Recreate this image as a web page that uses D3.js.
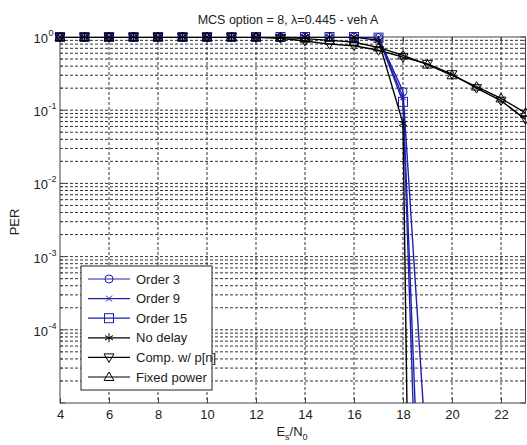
<!DOCTYPE html>
<html lang="en">
<head>
<meta charset="UTF-8">
<title>PER vs Es/N0</title>
<script src="https://d3js.org/d3.v7.min.js"></script>
<style>
    body { margin: 0; background: #fff; }
    svg { font-family: "Liberation Sans", Arial, sans-serif; }
    .grid line { stroke: #333; stroke-dasharray: 3,2; stroke-width: 1; }
    .curve { fill: none; stroke-width: 1.4px; }
</style>
</head>
<body>
<svg width="527" height="445"></svg>
<script>
// x values (Es/N0, dB)
const snrLong  = [4, 5, 6, 7, 8, 9, 10, 11, 12, 13, 14, 15, 16, 17, 18, 19, 20, 21, 22, 23];
const snrShort = [4, 5, 6, 7, 8, 9, 10, 11, 12, 13, 14, 15, 16, 17, 18, 19];

// PER per series
const order3   = [1, 1, 1, 1, 1, 1, 1, 1, 1, 1, 1, 1, 1, 0.98, 0.18, 1.15e-6];
const order9   = [1, 1, 1, 1, 1, 1, 1, 1, 1, 1, 1, 1, 1, 0.98, 0.15, 5e-10];
const order15  = [1, 1, 1, 1, 1, 1, 1, 1, 1, 1, 1, 1, 1, 0.98, 0.13, 1.2e-11];
const noDelay  = [1, 1, 1, 1, 1, 1, 1, 1, 1, 1, 1, 1, 1, 0.9, 0.066, 1e-25];
const compPn   = [1, 1, 1, 1, 1, 1, 1, 1, 0.99, 0.96, 0.88, 0.8, 0.76, 0.66, 0.53, 0.43, 0.31, 0.2, 0.135, 0.075];
const fixedPow = [1, 1, 1, 1, 1, 1, 1, 1, 1, 0.99, 0.95, 0.9, 0.85, 0.72, 0.56, 0.42, 0.3, 0.21, 0.145, 0.092];

const xTicks = [4, 6, 8, 10, 12, 14, 16, 18, 20, 22];
const yTicks = [1, 1e-1, 1e-2, 1e-3, 1e-4];
const yExps  = ["0", "-1", "-2", "-3", "-4"];

const blue = "#2020b0";
const series = [
    { name: "Order 3",       x: snrShort, y: order3,   color: blue,   marker: "circle" },
    { name: "Order 9",       x: snrShort, y: order9,   color: blue,   marker: "x" },
    { name: "Order 15",      x: snrShort, y: order15,  color: blue,   marker: "square" },
    { name: "No delay",      x: snrShort, y: noDelay,  color: "#000", marker: "star" },
    { name: "Comp. w/ p[n]", x: snrLong,  y: compPn,   color: "#000", marker: "tridown" },
    { name: "Fixed power",   x: snrLong,  y: fixedPow, color: "#000", marker: "triup" }
];

const pLeft = 60, pRight = 525.5, pTop = 37, pBottom = 403;
const svg = d3.select("svg");

const x = d3.scaleLinear().domain([4, 23]).range([pLeft, pRight]);
const y = d3.scaleLog().domain([1e-5, 1]).range([pBottom, pTop]);

svg.append("defs").append("clipPath").attr("id", "plot")
    .append("rect").attr("x", pLeft).attr("y", pTop)
    .attr("width", pRight - pLeft).attr("height", pBottom - pTop);

// grid
const minor = [];
for (let e = -5; e < 0; e++) {
    for (let m = 2; m <= 9; m++) minor.push(m * Math.pow(10, e));
}
const grid = svg.append("g").attr("class", "grid");
grid.selectAll(".gx").data(xTicks.slice(1)).join("line")
    .attr("x1", d => x(d)).attr("x2", d => x(d)).attr("y1", pTop).attr("y2", pBottom);
grid.append("g").selectAll("line").data(yTicks.slice(1).concat(minor)).join("line")
    .attr("x1", pLeft).attr("x2", pRight).attr("y1", d => y(d)).attr("y2", d => y(d));

// axes box and ticks
svg.append("rect").attr("x", pLeft).attr("y", pTop)
    .attr("width", pRight - pLeft).attr("height", pBottom - pTop)
    .attr("fill", "none").attr("stroke", "#444");

const xAxis = svg.append("g").attr("transform", `translate(0,${pBottom})`)
    .call(d3.axisBottom(x).tickValues(xTicks).tickSize(-5).tickPadding(7).tickFormat(d3.format("d")));
xAxis.select(".domain").remove();
xAxis.selectAll("text").attr("font-size", 13).attr("fill", "#222");
xAxis.selectAll("line").attr("stroke", "#444");

svg.append("g").attr("transform", `translate(0,${pTop})`)
    .call(d3.axisTop(x).tickValues(xTicks).tickSize(-5).tickFormat(""))
    .call(g => g.select(".domain").remove())
    .selectAll("line").attr("stroke", "#444");

const yMajor = [1, 1e-1, 1e-2, 1e-3, 1e-4, 1e-5];
[pLeft, pRight].forEach((px, i) => {
    const dir = i === 0 ? 1 : -1;
    svg.append("g").selectAll("line").data(yMajor).join("line")
        .attr("x1", px).attr("x2", px + dir * 5)
        .attr("y1", d => y(d)).attr("y2", d => y(d)).attr("stroke", "#444");
    svg.append("g").selectAll("line").data(minor).join("line")
        .attr("x1", px).attr("x2", px + dir * 3)
        .attr("y1", d => y(d)).attr("y2", d => y(d)).attr("stroke", "#444");
});

const yLab = svg.append("g").selectAll("text").data(yTicks).join("text")
    .attr("x", 48).attr("y", d => y(d) + 6)
    .attr("text-anchor", "end").attr("font-size", 13).attr("fill", "#222");
yLab.append("tspan").text("10");
yLab.append("tspan").attr("x", 48.5).attr("text-anchor", "start").attr("dy", -7).attr("font-size", 9)
    .text((d, i) => yExps[i]);

// labels
svg.append("text").attr("x", 288).attr("y", 24).attr("text-anchor", "middle")
    .attr("font-size", 12.5).attr("fill", "#222").text("MCS option = 8,  \u03bb=0.445 - veh A");

svg.append("text").attr("transform", "translate(19,222) rotate(-90)")
    .attr("text-anchor", "middle").attr("font-size", 13).attr("fill", "#222").text("PER");

const xl = svg.append("text").attr("x", 292).attr("y", 436).attr("text-anchor", "middle")
    .attr("font-size", 13).attr("fill", "#222");
xl.append("tspan").text("E");
xl.append("tspan").attr("dy", 4).attr("font-size", 9).text("s");
xl.append("tspan").attr("dy", -4).text("/N");
xl.append("tspan").attr("dy", 4).attr("font-size", 9).text("0");

// markers
function drawMarker(g, type, color) {
    if (type === "circle") {
        g.append("circle").attr("r", 4).attr("fill", "none").attr("stroke", color);
    } else if (type === "square") {
        g.append("rect").attr("x", -4.5).attr("y", -4.5).attr("width", 9).attr("height", 9)
            .attr("fill", "none").attr("stroke", color);
    } else if (type === "x") {
        g.append("path").attr("d", "M-3,-3L3,3M-3,3L3,-3").attr("stroke", color).attr("fill", "none");
    } else if (type === "star") {
        g.append("path").attr("d", "M0,-4.5V4.5M-4,-2.2L4,2.2M-4,2.2L4,-2.2")
            .attr("stroke", color).attr("fill", "none");
    } else if (type === "tridown") {
        g.append("path").attr("d", "M-5,-3.5L5,-3.5L0,5Z").attr("stroke", color).attr("fill", "none");
    } else if (type === "triup") {
        g.append("path").attr("d", "M-5,3.5L5,3.5L0,-5Z").attr("stroke", color).attr("fill", "none");
    }
}

const line = d3.line().x(d => x(d[0])).y(d => y(d[1]));

series.forEach(s => {
    const pts = s.x.map((v, i) => [v, s.y[i]]);
    svg.append("path").datum(pts).attr("class", "curve")
        .attr("clip-path", "url(#plot)")
        .attr("stroke", s.color).attr("d", line);
    pts.filter(p => p[1] >= 1e-5 && p[0] <= 23).forEach(p => {
        const g = svg.append("g").attr("transform", `translate(${x(p[0])},${y(p[1])})`);
        drawMarker(g, s.marker, s.color);
    });
});

// legend
const lg = svg.append("g");
lg.append("rect").attr("x", 81).attr("y", 266).attr("width", 131).attr("height", 124)
    .attr("fill", "#fff").attr("stroke", "#222");
series.forEach((s, i) => {
    const ly = 279 + i * 19.6;
    lg.append("line").attr("x1", 88).attr("x2", 130).attr("y1", ly).attr("y2", ly)
        .attr("stroke", s.color).attr("stroke-width", 1.2);
    drawMarker(lg.append("g").attr("transform", `translate(109,${ly})`), s.marker, s.color);
    lg.append("text").attr("x", 136).attr("y", ly + 4.5).attr("font-size", 13)
        .attr("fill", "#222").text(s.name);
});
</script>
</body>
</html>
